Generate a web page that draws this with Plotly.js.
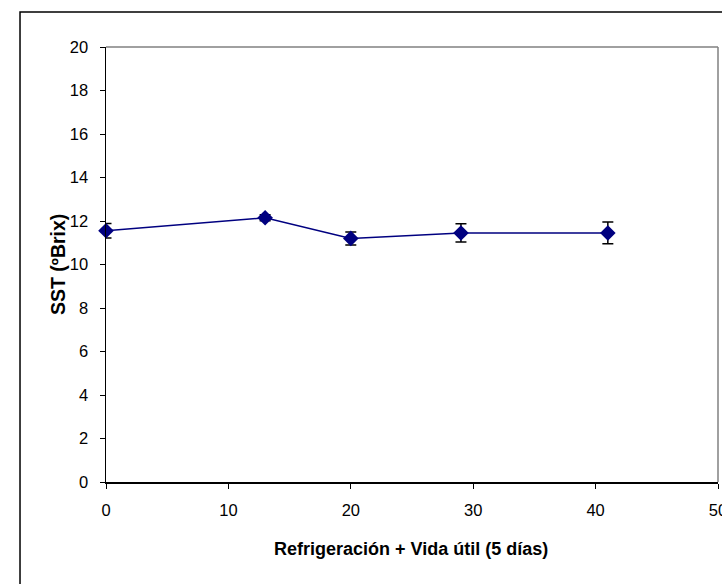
<!DOCTYPE html>
<html>
<head>
<meta charset="utf-8">
<script src="https://cdn.plot.ly/plotly-3.0.1.min.js"></script>
<style>
html,body{margin:0;padding:0;background:#fff;}
#chart{width:722px;height:584px;}
</style>
</head>
<body>
<div id="chart"></div>
<script>
const days = [0, 13, 20, 29, 41];
const sst = [11.55, 12.15, 11.2, 11.45, 11.45];
const sstErr = [0.33, 0.14, 0.3, 0.42, 0.5];
const xTicks = [0, 10, 20, 30, 40, 50];
const yTicks = [0, 2, 4, 6, 8, 10, 12, 14, 16, 18, 20];
const xTitle = 'Refrigeración + Vida útil (5 días)';
const yTitle = 'SST (ºBrix)';

const trace = {
  x: days,
  y: sst,
  type: 'scatter',
  mode: 'lines+markers',
  line: {color: '#000080', width: 1.5},
  marker: {symbol: 'diamond', size: 12, color: '#000080'},
  error_y: {type: 'data', array: sstErr, visible: true, color: '#000000', thickness: 1.5, width: 5.5},
  showlegend: false,
  cliponaxis: false
};

const fam = 'Liberation Sans, Arial, sans-serif';
const tickFont = {family: fam, size: 16.5, color: '#000'};

const layout = {
  width: 722, height: 584,
  margin: {l: 106, r: 4, t: 47, b: 102},
  paper_bgcolor: '#fff', plot_bgcolor: '#fff',
  font: tickFont,
  showlegend: false,
  xaxis: {
    range: [0, 50], tickvals: xTicks, ticktext: xTicks.map(String),
    showgrid: false, zeroline: false, showline: true, linecolor: '#000', linewidth: 1.5,
    ticks: 'outside', ticklen: 5, tickcolor: '#000', tickwidth: 1,
    tickfont: tickFont, ticklabelstandoff: 8, ticklabeloverflow: 'allow'
  },
  yaxis: {
    range: [0, 20], tickvals: yTicks, ticktext: yTicks.map(String),
    showgrid: false, zeroline: false, showline: true, linecolor: '#000', linewidth: 1.5,
    ticks: 'outside', ticklen: 5, tickcolor: '#000', tickwidth: 1,
    tickfont: tickFont, ticklabelstandoff: 8
  },
  annotations: [
    {text: '<b>' + xTitle + '</b>', xref: 'paper', yref: 'paper', x: 0.498, y: -0.154,
     xanchor: 'center', yanchor: 'middle', showarrow: false, font: {family: fam, size: 18, color: '#000'}},
    {text: '<b>' + yTitle + '</b>', xref: 'paper', yref: 'paper', x: -0.0792, y: 0.5,
     xanchor: 'center', yanchor: 'middle', textangle: -90, showarrow: false, font: {family: fam, size: 19.5, color: '#000'}}
  ],
  shapes: [
    {type: 'line', xref: 'paper', yref: 'paper', x0: 0, x1: 1, y0: 1, y1: 1, line: {color: '#808080', width: 1.5}},
    {type: 'line', xref: 'paper', yref: 'paper', x0: 1, x1: 1, y0: 0, y1: 1, line: {color: '#808080', width: 1.5}},
    {type: 'rect', xref: 'paper', yref: 'paper', x0: -0.1405, x1: 1.2, y0: -0.4, y1: 1.0805, line: {color: '#000', width: 1.5}, fillcolor: 'rgba(0,0,0,0)'}
  ]
};

Plotly.newPlot('chart', [trace], layout, {displayModeBar: false, staticPlot: true});
</script>
</body>
</html>
